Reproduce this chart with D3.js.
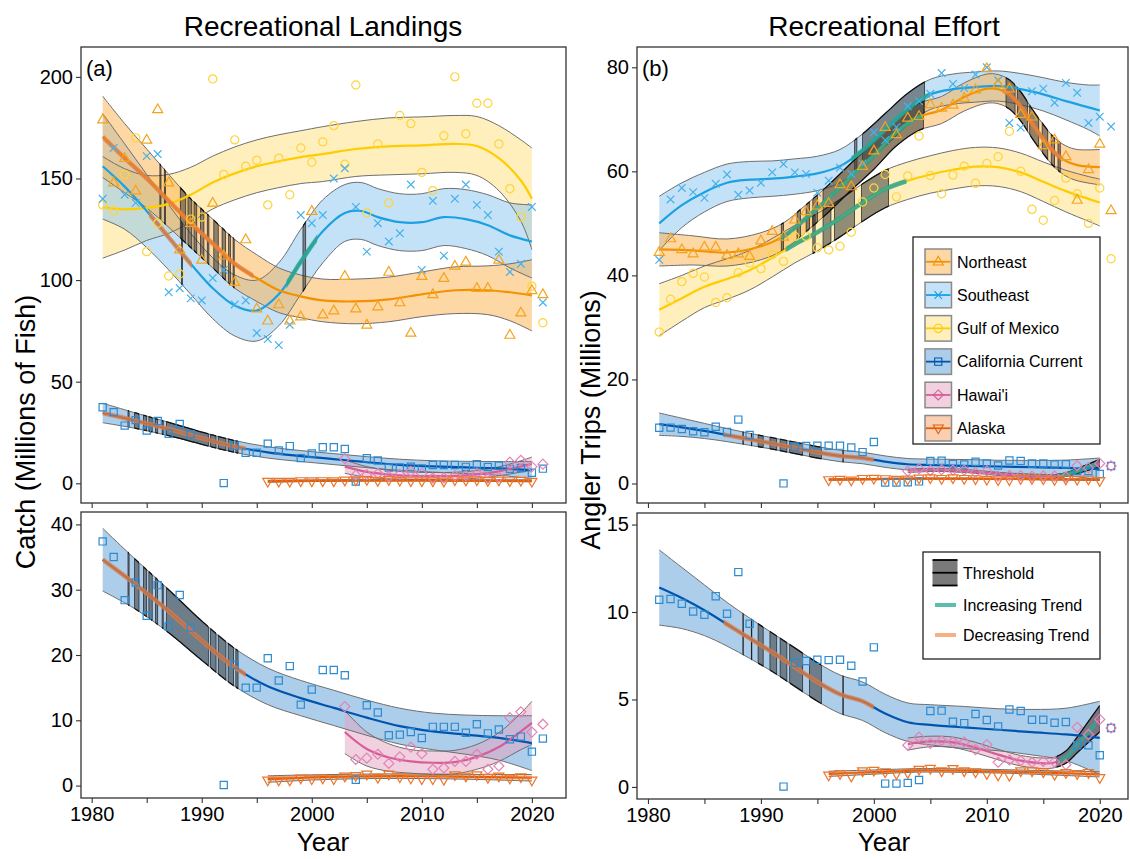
<!DOCTYPE html>
<html>
<head>
  <script src="https://d3js.org/d3.v7.min.js"></script>
  <style>
    body { margin: 0; background: #fff; }
    text { font-family: "Liberation Sans", Arial, sans-serif; fill: #000; }
    .axis text { font-size: 20px; }
    .axis path { display: none; }
    .axis line { stroke: #333; stroke-width: 1.1; }
  </style>
</head>
<body>
  <svg id="chart" width="1130" height="859"></svg>
  <script>
    // ---- observed points (first year of each array given separately) ----
    var mainStart = 1981, akStart = 1996, hiStart = 2003;

    var neCatch = [179,148,160,144,169,184,148,115,128,110,138,112,99,120,86,80,88,80,82,134,83,85,102,86,78,87,104,89,74,102,93,101,107,109,96,96,110,73,84,95,93];
    var seCatch = [140,165,142,138,161,162,94,96,91,90,101,105,88,90,74,71,68,78,132,128,132,150,155,136,114,128,119,123,147,105,139,112,140,147,137,132,114,104,108,136,89];
    var gomCatch = [137,134,152,170,114,128,102,103,130,131,199,152,169,156,159,137,160,142,165,158,168,176,157,196,133,167,138,181,177,153,144,171,200,172,187,187,167,145,131,97,79];
    var caCatch = [37.4,35,28.4,31.1,26,30.7,24.4,29.2,24.2,null,null,0.1,18.5,15,15,19.5,16.1,18.3,12.4,14.7,17.7,17.7,16.9,0.9,12.3,11.2,7.7,7.8,8.2,7.3,9,9,9,8.1,9.4,8,8.6,7.1,7.5,5.2,7.2];
    var hiCatch = [12.1,4,4.2,4.8,3.4,4.4,5.9,4.9,2.5,2.7,3.7,3.7,4.8,2.5,3,10.4,11.3,8.2,9.4];
    var akCatch = [0.8,0.8,0.8,1.1,1.0,1.1,1.0,1.4,1.5,1.7,1.2,1.7,1.3,1.1,1.0,1.0,0.9,1.6,1.4,1.6,1.2,1.4,1.1,1.3,0.8];

    var neTrips = [44.5,47.1,45,44.2,45.5,45.5,43.9,44.2,43.7,46.7,48.5,47.4,50.7,52.3,53.4,53.9,57.5,57.1,61,64,68.5,67.1,70.3,70.6,72.9,72.2,72.8,74.1,75.7,79.8,76.8,75.9,71,70.5,65,66.1,62.9,54.5,60.4,65.3,52.5];
    var seTrips = [43,54.6,56.8,56,54.9,57.6,59.4,55.5,56.3,57.8,59.8,61.4,59.8,59.5,55.9,58.2,60.7,59.5,61.5,67.5,66,68.5,72.5,73.5,74.9,78.9,76.8,76,78.6,80,77.5,69.3,68.4,75.4,75.9,73.2,77,75.1,69.3,70.5,68.6];
    var gomTrips = [29.1,35.4,38.8,40.4,39.7,34.8,35.7,40.5,42.4,41.3,44,42.7,47.5,47.5,45.3,44.9,45.6,48.3,54.1,56.8,59.4,55.1,59.1,66.8,59.2,55.7,59.3,61,57.7,61.5,62.8,67.7,60,52.7,50.6,54.4,58.7,55.7,50,56.8,43.2];
    var caTrips = [10.7,10.74,10.47,10.03,9.84,10.9,9.9,12.28,9.33,null,null,0.02,7.1,7.2,7.27,7.25,7.27,6.93,6.03,7.98,0.19,0.19,0.23,0.4,4.34,4.36,3.73,3.65,4.17,3.83,3.46,4.43,4.34,3.84,3.84,3.67,3.71,2.38,2.38,1.81,3.37];
    var hiTrips = [2.38,2.85,2.49,2.64,2.57,2.57,2.13,2.42,1.41,1.54,1.5,1.41,1.46,1.43,1.27,3.41,3.0,3.86,3.37];
    var akTrips = [0.66,0.74,0.6,0.9,0.93,0.85,0.74,0.8,0.99,1.04,0.9,1.03,0.9,0.85,0.74,0.66,0.64,0.9,0.9,0.84,0.7,0.8,0.74,0.8,0.51];

    // ---- smoothed fits (knot years, fitted value, half width of band) ----
    var neCatchFitYr = [1981,1983,1985,1987,1989,1991,1993,1995,1997,1999,2001,2004,2007,2010,2013,2016,2018,2020];
    var neCatchFit = [170.5,160,150,139,128,118,108,101,95,92,90,89.5,90.5,93,95,95,94,92.5];
    var neCatchHw = [20,17,14.5,13,12,12,12,11.5,11,10.5,10.5,11,11,11,11.5,12,14,17.5];
    var seCatchFitYr = [1981,1983,1985,1987,1989,1991,1993,1995,1997,1999,2001,2003,2004.5,2006,2008,2010,2012,2014,2016,2018,2020];
    var seCatchFit = [156,146,134,121,108,96,87.5,85,93,109,124,133,134,131,128.5,128.5,131,130,127,122,119];
    var seCatchHw = [26,21,18,16,15,15,15,15,15.5,16,15.5,14,14,14,14,14,14,14.5,15,16,18];
    var gomCatchFitYr = [1981,1983,1985,1987,1989,1991,1993,1995,1997,1999,2001,2004,2007,2010,2013,2015,2017,2019,2020];
    var gomCatchFit = [135.8,134.8,135.5,137.5,142,148,152.5,156,158.5,160.5,162,164.5,165.8,166.3,167,166,160,149,140];
    var gomCatchHw = [25,20,16,14.5,13.5,13,13,13,13,13,13.5,13.5,14,14,14,14.5,16,20,25];
    var caCatchFitYr = [1981,1984,1987,1990,1993,1996,1999,2002,2005,2008,2011,2014,2017,2020];
    var caCatchFit = [34.6,30.8,26.7,22.2,18.1,15.2,13.4,11.9,10.4,9.1,8.3,7.8,7.3,6.5];
    var caCatchHw = [4.8,3.8,3.3,3.0,2.9,2.8,2.7,2.7,2.7,2.75,2.8,3.0,3.4,4.2];
    var hiCatchFitYr = [2003,2005,2007,2009,2011,2013,2015,2017,2019,2020];
    var hiCatchFit = [8.2,5.6,4.3,3.7,3.5,3.6,4.4,5.9,8.3,9.6];
    var hiCatchHw = [3.3,2.6,2.1,1.8,1.8,1.8,1.9,2.2,2.8,3.3];
    var akCatchFitYr = [1996,2000,2004,2008,2012,2016,2020];
    var akCatchFit = [1.0,1.25,1.4,1.45,1.4,1.3,1.2];
    var akCatchHw = [0.5,0.4,0.35,0.35,0.35,0.4,0.5];

    var neTripsFitYr = [1981,1984,1987,1990,1992,1994,1996,1998,2000,2002,2004,2006,2008,2010,2011,2012,2013,2014,2015,2016,2017,2018,2020];
    var neTripsFit = [45,44.8,44.4,45.6,47.5,51,54.8,59,63,67.5,70.5,71.8,74.3,75.9,75.8,74.8,72.5,69.2,66.2,63.6,62,61.2,60.8];
    var neTripsHw = [3.2,2.8,2.6,2.6,2.6,2.6,2.6,2.6,2.6,2.6,2.6,2.6,2.7,2.8,2.8,2.8,2.8,2.8,2.8,2.8,2.9,3.0,3.4];
    var seTripsFitYr = [1981,1983,1985,1987,1989,1991,1993,1995,1997,1999,2001,2003,2005,2007,2009,2011,2013,2015,2017,2019,2020];
    var seTripsFit = [50,53.5,56,57.8,58.4,58.6,59,59.6,61,64,68,72,74.8,75.8,76.2,76.4,75.8,74.8,73.5,72.3,71.7];
    var seTripsHw = [5.2,4.3,3.8,3.6,3.5,3.4,3.4,3.3,3.2,3.2,3.1,3.0,2.9,2.9,2.9,2.9,3.0,3.2,3.6,4.3,4.9];
    var gomTripsFitYr = [1981,1983,1985,1987,1989,1991,1993,1995,1997,1999,2001,2003,2005,2007,2009,2011,2013,2015,2017,2019,2020];
    var gomTripsFit = [33.4,35.6,37.8,39.3,41,43.4,46,48.3,51,54,56.6,58.2,59.4,60.3,60.9,60.8,59.8,58,56.2,54.7,54];
    var gomTripsHw = [5,4.4,4,3.9,3.8,3.7,3.6,3.6,3.6,3.6,3.6,3.6,3.6,3.7,3.7,3.7,3.7,3.8,4,4.3,4.5];
    var caTripsFitYr = [1981,1983,1985,1987,1989,1991,1993,1995,1997,1999,2001,2003,2005,2008,2011,2014,2017,2020];
    var caTripsFit = [11.4,10.8,10.1,9.3,8.5,7.7,6.85,6.0,5.3,4.9,4.2,3.7,3.55,3.4,3.27,3.13,3.0,2.8];
    var caTripsHw = [2.15,1.75,1.45,1.25,1.15,1.1,1.1,1.1,1.1,1.1,1.1,1.1,1.15,1.2,1.2,1.3,1.5,2.1];
    var hiTripsFitYr = [2003,2005,2007,2009,2011,2013,2015,2016,2017,2018,2019,2020];
    var hiTripsFit = [2.45,2.6,2.55,2.25,1.85,1.5,1.35,1.4,1.7,2.4,3.15,3.9];
    var hiTripsHw = [0.35,0.3,0.3,0.3,0.3,0.3,0.3,0.3,0.35,0.45,0.6,0.75];
    var akTripsFitYr = [1996,2000,2004,2008,2012,2016,2020];
    var akTripsFit = [0.75,0.85,0.95,0.93,0.88,0.8,0.72];
    var akTripsHw = [0.15,0.12,0.1,0.1,0.1,0.12,0.15];

    // ---- threshold spans and trend spans (years) ----
    var neCatchThr = [[1986.2,1986.3],[1986.6,1986.7],[1988.05,1988.55],[1988.75,1989.1],[1989.3,1989.55],[1989.9,1990.2],[1990.5,1990.65],[1991.1,1991.5],[1991.85,1992.15],[1992.45,1992.6],[1992.85,1992.95]];
    var seCatchThr = [[1988.15,1988.25],[1999.2,1999.45]];
    var caCatchThr = [[1983.3,1983.4],[1983.9,1984.3],[1984.7,1985.0],[1985.2,1985.5],[1985.8,1986.0],[1986.4,1986.5],[1986.8,1990.6],[1990.8,1991.3],[1991.5,1992.2],[1992.4,1992.9],[1993.1,1993.3]];
    var neCatchDec = [[1981,1994.7]];
    var seCatchDec = [[1985.2,1989.1]];
    var seCatchInc = [[1997.7,2000.5]];
    var caCatchDec = [[1981,1994]];

    var neTripsThr = [[1991.8,1992.0],[1993.2,1993.5],[1994.0,1994.3],[1994.6,1995.0],[1995.5,2004.4],[2011.7,2012.5],[2012.7,2013.6],[2013.8,2014.6],[2014.9,2015.4],[2015.7,2016.0],[2016.3,2016.5]];
    var seTripsThr = [[1998.3,1998.5],[1999.0,2004.5]];
    var gomTripsThr = [[1994.6,1994.8],[1995.5,1996.2],[1996.5,1998.3],[1998.9,2001.3]];
    var caTripsThr = [[1988.4,1988.45],[1989.15,1989.2],[1989.75,1990.2],[1990.8,1991.4],[1991.7,1992.3],[1992.55,1993.7],[1994.3,1995.35],[1997.25,1997.3]];
    var hiTripsThr = [[2016.2,2020]];
    var neTripsInc = [[1991.8,2004.3]];
    var neTripsDec = [[2011.4,2016.7]];
    var seTripsInc = [[1998.0,2005.0]];
    var gomTripsInc = [[1992.2,2002.9]];
    var caTripsDec = [[1986.7,2000]];
    var hiTripsInc = [[2016.3,2019.7]];

    var regionNames = ['Northeast', 'Southeast', 'Gulf of Mexico', 'California Current', "Hawai'i", 'Alaska'];
    var yTicksCatch = [0, 50, 100, 150, 200];
    var yTicksCatchZoom = [0, 10, 20, 30, 40];
    var yTicksTrips = [0, 20, 40, 60, 80];
    var yTicksTripsZoom = [0, 5, 10, 15];

    // ---- styles ----
    var styles = {
      ne:  { line: '#F39200', band: '#FBB04A', mark: '#F5A31C', sym: 'triUp' },
      se:  { line: '#1BA1E2', band: '#89C5F0', mark: '#45B1EA', sym: 'times' },
      gom: { line: '#FFCC00', band: '#FFE07A', mark: '#FFD43C', sym: 'circle' },
      ca:  { line: '#0054AE', band: '#5A9DD6', mark: '#2B8BD2', sym: 'square' },
      hi:  { line: '#D65E97', band: '#E4A2C2', mark: '#E283B3', sym: 'diamond' },
      ak:  { line: '#E05E0C', band: '#F59E64', mark: '#F07426', sym: 'triDown' }
    };
    var incColor = '#2BA58E', decColor = '#E57C3F';

    function glyph(kind) {
      switch (kind) {
        case 'triUp': return 'M0,-5.4L5,3.3L-5,3.3Z';
        case 'triDown': return 'M0,5.4L5,-3.3L-5,-3.3Z';
        case 'circle': return 'M4.1,0A4.1,4.1 0 1,1 -4.1,0A4.1,4.1 0 1,1 4.1,0Z';
        case 'square': return 'M-3.6,-3.6H3.6V3.6H-3.6Z';
        case 'diamond': return 'M0,-5L5,0L0,5L-5,0Z';
        case 'times': return 'M-3.8,-3.8L3.8,3.8M-3.8,3.8L3.8,-3.8';
      }
    }

    function series(id, start, pts, fy, fit, hw, thr, inc, dec) {
      return {
        id: id,
        pts: pts.map(function (v, i) { return { yr: start + i, v: v }; })
                .filter(function (d) { return d.v !== null; }),
        knots: fy.map(function (yr, i) {
          return { yr: yr, v: fit[i], lo: fit[i] - hw[i], hi: fit[i] + hw[i] };
        }),
        thr: thr || [], inc: inc || [], dec: dec || []
      };
    }

    var landings = {
      ne: series('ne', mainStart, neCatch, neCatchFitYr, neCatchFit, neCatchHw, neCatchThr, [], neCatchDec),
      se: series('se', mainStart, seCatch, seCatchFitYr, seCatchFit, seCatchHw, seCatchThr, seCatchInc, seCatchDec),
      gom: series('gom', mainStart, gomCatch, gomCatchFitYr, gomCatchFit, gomCatchHw),
      ca: series('ca', mainStart, caCatch, caCatchFitYr, caCatchFit, caCatchHw, caCatchThr, [], caCatchDec),
      hi: series('hi', hiStart, hiCatch, hiCatchFitYr, hiCatchFit, hiCatchHw),
      ak: series('ak', akStart, akCatch, akCatchFitYr, akCatchFit, akCatchHw)
    };
    var effort = {
      ne: series('ne', mainStart, neTrips, neTripsFitYr, neTripsFit, neTripsHw, neTripsThr, neTripsInc, neTripsDec),
      se: series('se', mainStart, seTrips, seTripsFitYr, seTripsFit, seTripsHw, seTripsThr, seTripsInc),
      gom: series('gom', mainStart, gomTrips, gomTripsFitYr, gomTripsFit, gomTripsHw, gomTripsThr, gomTripsInc),
      ca: series('ca', mainStart, caTrips, caTripsFitYr, caTripsFit, caTripsHw, caTripsThr, [], caTripsDec),
      hi: series('hi', hiStart, hiTrips, hiTripsFitYr, hiTripsFit, hiTripsHw, hiTripsThr, hiTripsInc),
      ak: series('ak', akStart, akTrips, akTripsFitYr, akTripsFit, akTripsHw)
    };

    var panels = [
      { x0: 81, x1: 566, y0: 47, y1: 503, xd: [1979.03, 2023.1], yd: [-9.7, 214.7], ticks: yTicksCatch,
        tag: '(a)', data: [landings.gom, landings.se, landings.ne, landings.ca, landings.hi, landings.ak] },
      { x0: 81, x1: 566, y0: 512, y1: 798, xd: [1979.03, 2023.1], yd: [-1.9, 41.9], ticks: yTicksCatchZoom,
        labels: true, data: [landings.ca, landings.hi, landings.ak] },
      { x0: 637, x1: 1128, y0: 47, y1: 503, xd: [1979.03, 2022.5], yd: [-3.75, 83.9], ticks: yTicksTrips,
        tag: '(b)', data: [effort.gom, effort.se, effort.ne, effort.ca, effort.hi, effort.ak] },
      { x0: 637, x1: 1128, y0: 513, y1: 799, xd: [1979.03, 2022.5], yd: [-0.69, 15.66], ticks: yTicksTripsZoom,
        labels: true, data: [effort.ca, effort.hi, effort.ak] }
    ];

    var svg = d3.select('#chart');
    var defs = svg.append('defs');
    var curve = d3.curveCatmullRom.alpha(0.5);

    panels.forEach(function (p, pi) {
      var x = d3.scaleLinear().domain(p.xd).range([p.x0, p.x1]);
      var y = d3.scaleLinear().domain(p.yd).range([p.y1, p.y0]);
      var cid = 'clip' + pi;
      defs.append('clipPath').attr('id', cid).append('rect')
        .attr('x', p.x0).attr('y', p.y0).attr('width', p.x1 - p.x0).attr('height', p.y1 - p.y0);

      var area = d3.area().curve(curve)
        .x(function (d) { return x(d.yr); })
        .y0(function (d) { return y(d.lo); })
        .y1(function (d) { return y(d.hi); });
      var line = d3.line().curve(curve)
        .x(function (d) { return x(d.yr); })
        .y(function (d) { return y(d.v); });
      var upper = d3.line().curve(curve)
        .x(function (d) { return x(d.yr); })
        .y(function (d) { return y(d.hi); });
      var lower = d3.line().curve(curve)
        .x(function (d) { return x(d.yr); })
        .y(function (d) { return y(d.lo); });

      var plot = svg.append('g').attr('clip-path', 'url(#' + cid + ')');

      // confidence bands
      p.data.forEach(function (s) {
        plot.append('path').attr('d', area(s.knots))
          .attr('fill', styles[s.id].band).attr('fill-opacity', 0.5);
      });
      p.data.forEach(function (s) {
        [upper, lower].forEach(function (gen) {
          plot.append('path').attr('d', gen(s.knots))
            .attr('fill', 'none').attr('stroke', '#6e6e6e').attr('stroke-width', 1);
        });
      });

      // thresholds: grey strips inside the band
      p.data.forEach(function (s, k) {
        if (!s.thr.length) return;
        var bid = cid + 'b' + k, tid = cid + 't' + k;
        defs.append('clipPath').attr('id', bid).append('path').attr('d', area(s.knots));
        var tc = defs.append('clipPath').attr('id', tid);
        s.thr.forEach(function (t) {
          tc.append('rect').attr('x', x(t[0])).attr('y', p.y0)
            .attr('width', x(t[1]) - x(t[0])).attr('height', p.y1 - p.y0);
        });
        plot.append('g').attr('clip-path', 'url(#' + bid + ')')
          .selectAll('rect').data(s.thr).join('rect')
          .attr('x', function (t) { return x(t[0]); })
          .attr('y', p.y0)
          .attr('width', function (t) { return x(t[1]) - x(t[0]); })
          .attr('height', p.y1 - p.y0)
          .attr('fill', '#3a3a3a').attr('fill-opacity', 0.55)
          .attr('stroke', '#222').attr('stroke-width', 0.7);
        var og = plot.append('g').attr('clip-path', 'url(#' + tid + ')');
        [upper, lower].forEach(function (gen) {
          og.append('path').attr('d', gen(s.knots))
            .attr('fill', 'none').attr('stroke', '#111').attr('stroke-width', 1.3);
        });
      });

      // fitted lines
      p.data.forEach(function (s) {
        plot.append('path').attr('d', line(s.knots))
          .attr('fill', 'none').attr('stroke', styles[s.id].line).attr('stroke-width', 2.2);
      });

      // trend segments
      p.data.forEach(function (s, k) {
        [['inc', incColor, 0.85], ['dec', decColor, 0.8]].forEach(function (tr) {
          s[tr[0]].forEach(function (span, j) {
            var id = cid + tr[0] + k + '_' + j;
            defs.append('clipPath').attr('id', id).append('rect')
              .attr('x', x(span[0])).attr('y', p.y0)
              .attr('width', x(span[1]) - x(span[0])).attr('height', p.y1 - p.y0);
            plot.append('path').attr('d', line(s.knots))
              .attr('clip-path', 'url(#' + id + ')')
              .attr('fill', 'none').attr('stroke', tr[1]).attr('stroke-opacity', tr[2])
              .attr('stroke-width', 4.5);
          });
        });
      });

      // observed points
      p.data.forEach(function (s) {
        plot.append('g').selectAll('path').data(s.pts).join('path')
          .attr('transform', function (d) { return 'translate(' + x(d.yr) + ',' + y(d.v) + ')'; })
          .attr('d', glyph(styles[s.id].sym))
          .attr('fill', 'none').attr('stroke', styles[s.id].mark).attr('stroke-width', 1.2);
      });

      // axes
      svg.append('g').attr('class', 'axis')
        .attr('transform', 'translate(' + p.x0 + ',0)')
        .call(d3.axisLeft(y).tickValues(p.ticks).tickSize(5).tickPadding(3));
      svg.append('g').attr('class', 'axis')
        .attr('transform', 'translate(0,' + p.y1 + ')')
        .call(d3.axisBottom(x).tickValues(d3.range(1980, 2021, 5)).tickSize(5).tickPadding(4)
          .tickFormat(function (d) { return (p.labels && d % 10 === 0) ? d : ''; }));

      svg.append('rect').attr('x', p.x0).attr('y', p.y0)
        .attr('width', p.x1 - p.x0).attr('height', p.y1 - p.y0)
        .attr('fill', 'none').attr('stroke', '#333').attr('stroke-width', 1.3);

      if (p.tag) {
        svg.append('text').attr('x', p.x0 + 5).attr('y', p.y0 + 29)
          .style('font-size', '22px').text(p.tag);
      }
    });

    // ---- titles ----
    svg.append('text').attr('x', 323).attr('y', 36).attr('text-anchor', 'middle')
      .style('font-size', '28px').text('Recreational Landings');
    svg.append('text').attr('x', 884).attr('y', 36).attr('text-anchor', 'middle')
      .style('font-size', '28px').text('Recreational Effort');
    svg.append('text').attr('x', 323).attr('y', 851).attr('text-anchor', 'middle')
      .style('font-size', '26px').text('Year');
    svg.append('text').attr('x', 884).attr('y', 851).attr('text-anchor', 'middle')
      .style('font-size', '26px').text('Year');
    svg.append('text').attr('transform', 'translate(35,432) rotate(-90)').attr('text-anchor', 'middle')
      .style('font-size', '27px').text('Catch (Millions of Fish)');
    svg.append('text').attr('transform', 'translate(600,420) rotate(-90)').attr('text-anchor', 'middle')
      .style('font-size', '27px').text('Angler Trips (Millions)');

    // ---- region legend ----
    var regionKeys = ['ne', 'se', 'gom', 'ca', 'hi', 'ak'];
    var leg = svg.append('g').attr('transform', 'translate(913,237)');
    leg.append('rect').attr('width', 187).attr('height', 207)
      .attr('fill', '#fff').attr('stroke', '#222').attr('stroke-width', 1.3);
    regionKeys.forEach(function (k, i) {
      var row = leg.append('g').attr('transform', 'translate(12,' + (12 + i * 33.3) + ')');
      row.append('rect').attr('width', 26.5).attr('height', 25.5)
        .attr('fill', styles[k].band).attr('fill-opacity', 0.5)
        .attr('stroke', '#8a8a8a').attr('stroke-width', 1.5);
      row.append('line').attr('x1', 1).attr('x2', 25.5).attr('y1', 12.75).attr('y2', 12.75)
        .attr('stroke', styles[k].line).attr('stroke-width', 1.8);
      row.append('path').attr('transform', 'translate(13.25,12.75)').attr('d', glyph(styles[k].sym))
        .attr('fill', 'none').attr('stroke', styles[k].line).attr('stroke-width', 1.1);
      row.append('text').attr('x', 32).attr('y', 18.5).style('font-size', '16px').text(regionNames[i]);
    });

    // ---- trend legend ----
    var leg2 = svg.append('g').attr('transform', 'translate(923,552)');
    leg2.append('rect').attr('width', 177).attr('height', 107)
      .attr('fill', '#fff').attr('stroke', '#222').attr('stroke-width', 1.3);
    leg2.append('rect').attr('x', 9.5).attr('y', 8).attr('width', 25).attr('height', 25.5).attr('fill', '#7a7a7a');
    [8, 20.75, 33.5].forEach(function (yy) {
      leg2.append('line').attr('x1', 9.5).attr('x2', 34.5).attr('y1', yy).attr('y2', yy)
        .attr('stroke', '#000').attr('stroke-width', 1.8);
    });
    leg2.append('text').attr('x', 40).attr('y', 26.5).style('font-size', '16px').text('Threshold');
    leg2.append('line').attr('x1', 12).attr('x2', 33).attr('y1', 53).attr('y2', 53)
      .attr('stroke', '#5BBFAD').attr('stroke-width', 4);
    leg2.append('text').attr('x', 40).attr('y', 58.5).style('font-size', '16px').text('Increasing Trend');
    leg2.append('line').attr('x1', 12).attr('x2', 33).attr('y1', 83).attr('y2', 83)
      .attr('stroke', '#F4B183').attr('stroke-width', 4);
    leg2.append('text').attr('x', 40).attr('y', 88.5).style('font-size', '16px').text('Decreasing Trend');
  </script>
</body>
</html>
